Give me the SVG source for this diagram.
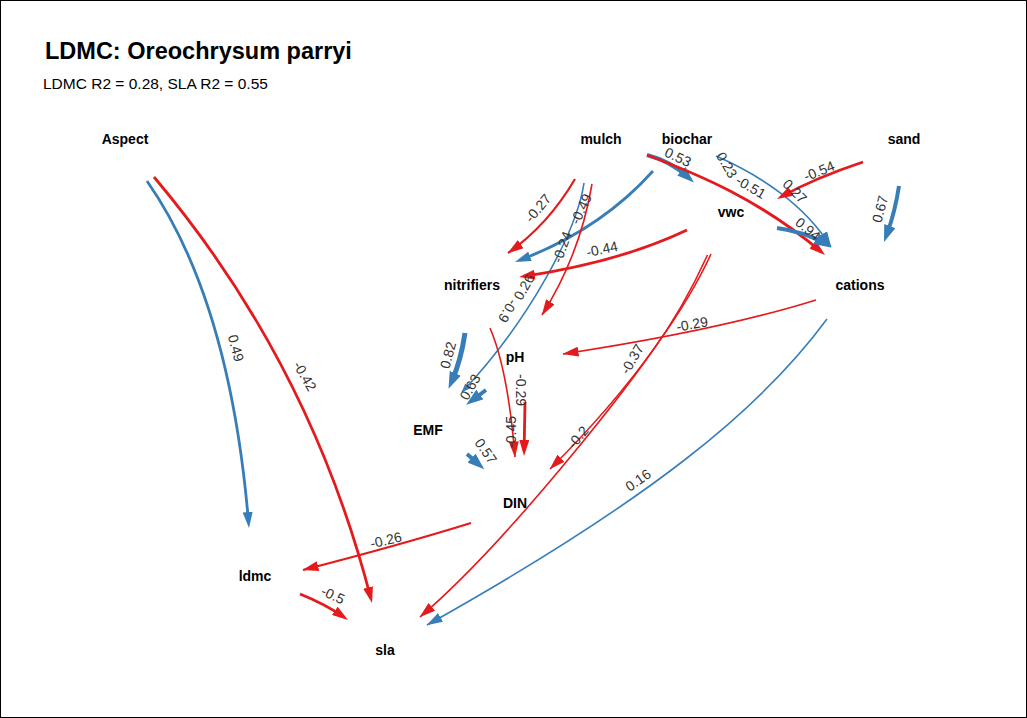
<svg xmlns="http://www.w3.org/2000/svg" width="1027" height="718" viewBox="0 0 1027 718">
<defs>
<style>
.r{stroke:#E41A1C;fill:none;stroke-linecap:butt}
.b{stroke:#377EB8;fill:none;stroke-linecap:butt}
.n{font-family:"Liberation Sans",Arial,sans-serif;font-weight:bold;font-size:14px;text-anchor:middle;fill:#000}
.l{font-family:"Liberation Sans",Arial,sans-serif;font-size:14px;text-anchor:middle;fill:#333;dominant-baseline:central}
.w1{stroke-width:1.6}.w2{stroke-width:2.2}.w3{stroke-width:2.8}.w4{stroke-width:4}.w5{stroke-width:5}
</style>
<marker id="rt" markerUnits="userSpaceOnUse" viewBox="0 0 16 10" markerWidth="16" markerHeight="10" refX="15.5" refY="5" orient="auto"><path d="M0,0L16,5L0,10z" fill="#E41A1C"/></marker>
<marker id="bt" markerUnits="userSpaceOnUse" viewBox="0 0 16 10" markerWidth="16" markerHeight="10" refX="15.5" refY="5" orient="auto"><path d="M0,0L16,5L0,10z" fill="#377EB8"/></marker>
<marker id="rm" markerUnits="userSpaceOnUse" viewBox="0 0 16 10" markerWidth="16" markerHeight="10" refX="11" refY="5" orient="auto"><path d="M0,0L16,5L0,10z" fill="#E41A1C"/></marker>
<marker id="bm" markerUnits="userSpaceOnUse" viewBox="0 0 16 10" markerWidth="16" markerHeight="10" refX="11" refY="5" orient="auto"><path d="M0,0L16,5L0,10z" fill="#377EB8"/></marker>
<marker id="bk" markerUnits="userSpaceOnUse" viewBox="0 0 17 12" markerWidth="17" markerHeight="12" refX="8" refY="6" orient="auto"><path d="M0,0L17,6L0,12z" fill="#377EB8"/></marker>
<marker id="rk" markerUnits="userSpaceOnUse" viewBox="0 0 17 12" markerWidth="17" markerHeight="12" refX="8" refY="6" orient="auto"><path d="M0,0L17,6L0,12z" fill="#E41A1C"/></marker>
<marker id="bs" markerUnits="userSpaceOnUse" viewBox="0 0 9 7" markerWidth="9" markerHeight="7" refX="8.5" refY="3.5" orient="auto"><path d="M0,0L9,3.5L0,7z" fill="#377EB8"/></marker>
</defs>
<rect x="0" y="0" width="1027" height="718" fill="#fff"/>
<rect x="0.5" y="0.5" width="1026" height="717" fill="none" stroke="#000" stroke-width="1"/>
<text x="45" y="59" font-family="Liberation Sans, Arial, sans-serif" font-weight="bold" font-size="23.5" fill="#000">LDMC: Oreochrysum parryi</text>
<text x="43" y="89" font-family="Liberation Sans, Arial, sans-serif" font-size="15.5" fill="#000">LDMC R2 = 0.28, SLA R2 = 0.55</text>
<g id="connectors">
<path class="b w3" d="M147,181 Q230,300 248.6,523" marker-end="url(#bm)"/>
<path class="r w3" d="M154,177 C245,285 325,420 370.8,598.2" marker-end="url(#rm)"/>
<path class="r w2" d="M575,179 Q548,225 508,253" marker-end="url(#rt)"/>
<path class="b w3" d="M653,171 Q600,230 519.7,260.2" marker-end="url(#bm)"/>
<path class="b w1" d="M584,183 C577,230 530,320 462,392" marker-end="url(#bs)"/>
<path class="r w1" d="M592,184 Q580,255 542,315" marker-end="url(#rt)"/>
<path class="r w3" d="M687,230 Q620,262 524,276.3" marker-end="url(#rm)"/>
<path class="b w4" d="M647,155 Q670,161 687.2,176.5" marker-end="url(#bk)"/>
<path class="r w3" d="M647,155 C700,175 760,200 821.2,251.8" marker-end="url(#rm)"/>
<path class="b w1" d="M716,156 C760,175 805,205 831,247" marker-end="url(#bt)"/>
<path class="r w3" d="M863,162 Q815,178 781.4,196.6" marker-end="url(#rm)"/>
<path class="b w4" d="M899,186 Q895,212 887.1,233.6" marker-end="url(#bk)"/>
<path class="b w4" d="M777,228 Q805,232 823.1,242.9" marker-end="url(#bk)"/>
<path class="r w1" d="M816,300 Q720,330 563,354" marker-end="url(#rt)"/>
<path class="b w1" d="M827,319 C760,410 650,500 427,625" marker-end="url(#bt)"/>
<path class="r w1" d="M711,254 C690,300 640,380 550,469" marker-end="url(#rt)"/>
<path class="r w1" d="M707.5,255 C689,296 667,331 651,353 C625,390 510,540 420,617" marker-end="url(#rt)"/>
<path class="r w2" d="M471,523 Q400,545 303,570" marker-end="url(#rt)"/>
<path class="r w3" d="M300,594 Q325,604 343.9,617.1" marker-end="url(#rm)"/>
<path class="b w5" d="M465,333 Q461,360 452.1,380.6" marker-end="url(#bk)"/>
<path class="b w4" d="M486,390 L473.4,399.3" marker-end="url(#bk)"/>
<path class="b w4" d="M467,454 L477.5,463.3" marker-end="url(#bk)"/>
<path class="r w1" d="M490,328 Q508,370 515,457" marker-end="url(#rt)"/>
<path class="r w3" d="M525,402 L524.1,451" marker-end="url(#rm)"/>
</g>
<g id="edge-labels">
<text class="l" transform="translate(236,348) rotate(75)">0.49</text>
<text class="l" transform="translate(305,376) rotate(60)">-0.42</text>
<text class="l" transform="translate(538,208) rotate(-50)">-0.27</text>
<text class="l" transform="translate(562,247) rotate(-70)">-0.24</text>
<text class="l" transform="translate(581,209) rotate(-65)">-0.49</text>
<text class="l" transform="translate(524,287) rotate(-60)">0.26</text>
<text class="l" transform="translate(508,311) rotate(120)">-0.9</text>
<text class="l" transform="translate(602,249) rotate(-12)">-0.44</text>
<text class="l" transform="translate(678,157) rotate(25)">0.53</text>
<text class="l" transform="translate(727,165) rotate(60)">0.23</text>
<text class="l" transform="translate(751,187) rotate(30)">-0.51</text>
<text class="l" transform="translate(795,191) rotate(45)">0.27</text>
<text class="l" transform="translate(819,171) rotate(-22)">-0.54</text>
<text class="l" transform="translate(808,229) rotate(40)">0.94</text>
<text class="l" transform="translate(880,209) rotate(-75)">0.67</text>
<text class="l" transform="translate(692,324) rotate(-10)">-0.29</text>
<text class="l" transform="translate(632,359) rotate(-60)">-0.37</text>
<text class="l" transform="translate(578,437) rotate(-50)">-0.2</text>
<text class="l" transform="translate(638,480) rotate(-35)">0.16</text>
<text class="l" transform="translate(448,355) rotate(-75)">0.82</text>
<text class="l" transform="translate(470,387) rotate(-60)">0.63</text>
<text class="l" transform="translate(486,451) rotate(55)">0.57</text>
<text class="l" transform="translate(511,432) rotate(-90)">-0.45</text>
<text class="l" transform="translate(521,390) rotate(90)">-0.29</text>
<text class="l" transform="translate(386,540) rotate(-13)">-0.26</text>
<text class="l" transform="translate(333,595) rotate(25)">-0.5</text>
</g>
<g id="node-Aspect"><text class="n" x="125" y="144">Aspect</text></g>
<g id="node-mulch"><text class="n" x="601" y="144">mulch</text></g>
<g id="node-biochar"><text class="n" x="687" y="144">biochar</text></g>
<g id="node-sand"><text class="n" x="904" y="144">sand</text></g>
<g id="node-vwc"><text class="n" x="731" y="217">vwc</text></g>
<g id="node-nitrifiers"><text class="n" x="472" y="290">nitrifiers</text></g>
<g id="node-cations"><text class="n" x="860" y="290">cations</text></g>
<g id="node-pH"><text class="n" x="515" y="362">pH</text></g>
<g id="node-EMF"><text class="n" x="428" y="435">EMF</text></g>
<g id="node-DIN"><text class="n" x="515" y="508">DIN</text></g>
<g id="node-ldmc"><text class="n" x="255" y="581">ldmc</text></g>
<g id="node-sla"><text class="n" x="385" y="655">sla</text></g>
</svg>
